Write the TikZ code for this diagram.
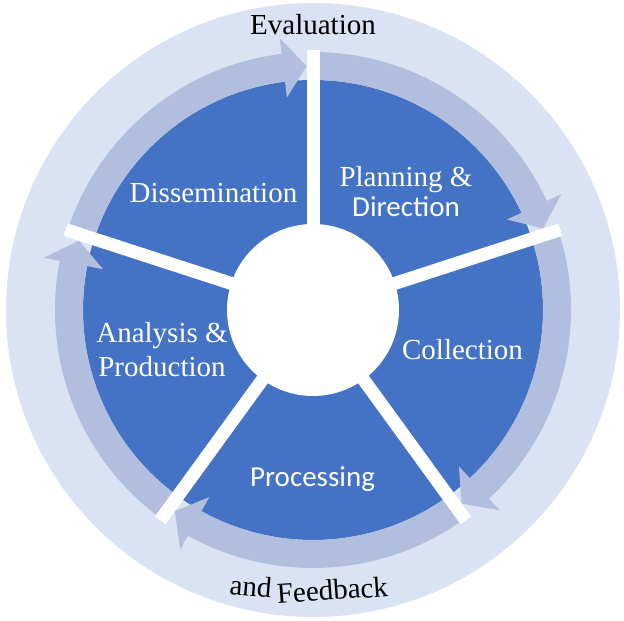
\documentclass[tikz,border=0pt]{standalone}
\usepackage{fontspec}
\setmainfont{Liberation Serif}
\newfontfamily\calibri{Carlito}
\definecolor{ringlight}{RGB}{218,227,243}
\definecolor{ringarrow}{RGB}{178,190,222}
\definecolor{piedark}{RGB}{68,114,196}
\tikzset{
  lbl/.style={text=white, inner sep=0pt, font=\fontsize{29bp}{30bp}\selectfont},
  outerlbl/.style={text=black, inner sep=0pt, font=\fontsize{29bp}{30bp}\selectfont},
  spokeline/.style={white, line width=13bp, line cap=butt},
}
\newcommand{\cyclearrow}[2]{% #1 start spoke angle, #2 end spoke angle
  \fill[ringarrow] (#1:258) arc[start angle=#1, end angle={#2+7.0}, radius=258]
    -- ({#2+7.0}:274) -- ({#2+1.5}:244) -- ({#2+7.0}:214) -- ({#2+7.0}:230)
    arc[start angle={#2+7.0}, end angle=#1, radius=230] -- cycle;}
\begin{document}
\begin{tikzpicture}[x=1bp,y=1bp]
\useasboundingbox (0,0) rectangle (624,621);
\begin{scope}[shift={(313,311)}]
  \fill[ringlight] (0,0) circle[radius=307];
  \fill[piedark] (0,0) circle[radius=230];
  \cyclearrow{90}{18}
  \cyclearrow{18}{-54}
  \cyclearrow{-54}{-126}
  \cyclearrow{-126}{-198}
  \cyclearrow{162}{90}
  \foreach \a in {90,18,-54,-126,162}
    \draw[spokeline] (0,0) -- (\a:260);
  \fill[white] (0,0) circle[radius=86];
\end{scope}
\node[outerlbl, anchor=base] (eval) at (313,586) {Evaluation};
\node[outerlbl, anchor=base, rotate=-5] (fbA) at (250,25) {and};
\node[outerlbl, anchor=base, rotate=4] (fbB) at (333,21) {Feedback};
\node[lbl, anchor=base] (diss) at (213.5,418) {Dissemination};
\node[lbl, anchor=base, align=center] (plan) at (406,404)
  {Planning \&\\{\calibri Direction}};
\node[lbl, anchor=base] (coll) at (462.5,261) {Collection};
\node[lbl, anchor=base] (proc) at (312.5,134) {\calibri Processing};
\node[lbl, anchor=base, align=center, font=\fontsize{29bp}{34bp}\selectfont] (anal) at (162,244)
  {Analysis \&\\Production};
\end{tikzpicture}
\end{document}
